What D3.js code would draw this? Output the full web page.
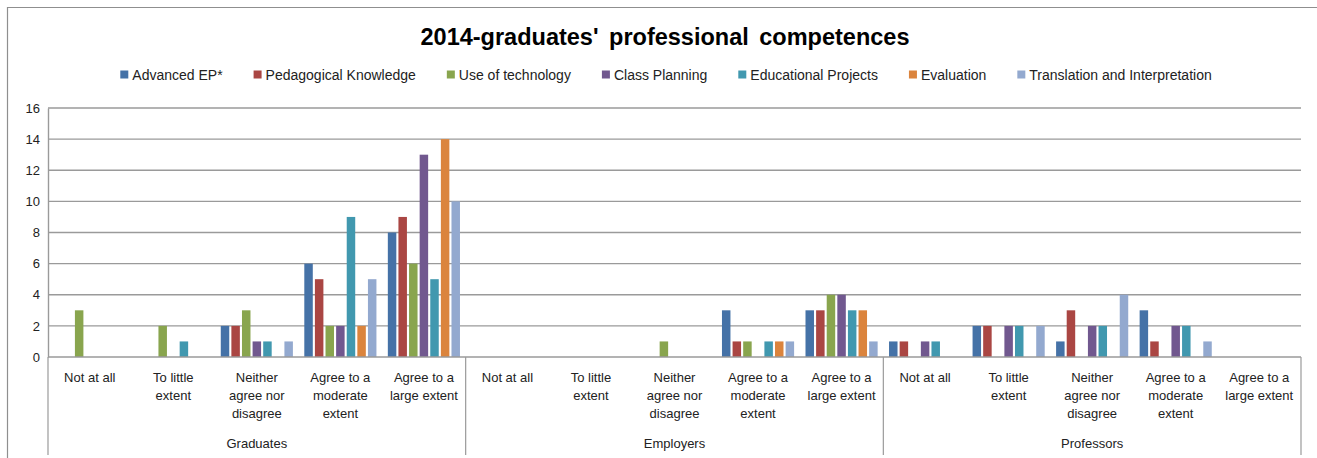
<!DOCTYPE html>
<html>
<head>
<meta charset="utf-8">
<script src="https://cdn.jsdelivr.net/npm/d3@7"></script>
<style>
  body { margin: 0; background: #fff; }
  svg { display: block; font-family: "Liberation Sans", Arial, sans-serif; }
</style>
</head>
<body>
<div id="chart"></div>
<script>
// chart data
const seriesNames = ["Advanced EP*", "Pedagogical Knowledge", "Use of technology", "Class Planning",
  "Educational Projects", "Evaluation", "Translation and Interpretation"]
const seriesColors = ["#4572A7", "#AA4643", "#89A54E", "#71588F", "#4198AF", "#DB843D", "#93A9CF"]
const groups = ["Graduates", "Employers", "Professors"]
const levels = [["Not at all"], ["To little", "extent"], ["Neither", "agree nor", "disagree"],
  ["Agree to a", "moderate", "extent"], ["Agree to a", "large extent"]]
const yTicks = [0, 2, 4, 6, 8, 10, 12, 14, 16]

// values: Graduates (5), Employers (5), Professors (5)
const advancedEP = [0, 0, 2, 6, 8, 0, 0, 0, 3, 3, 1, 2, 1, 3, 0]
const pedagogical = [0, 0, 2, 5, 9, 0, 0, 0, 1, 3, 1, 2, 3, 1, 0]
const technology = [3, 2, 3, 2, 6, 0, 0, 1, 1, 4, 0, 0, 0, 0, 0]
const classPlanning = [0, 0, 1, 2, 13, 0, 0, 0, 0, 4, 1, 2, 2, 2, 0]
const eduProjects = [0, 1, 1, 9, 5, 0, 0, 0, 1, 3, 1, 2, 2, 2, 0]
const evaluation = [0, 0, 0, 2, 14, 0, 0, 0, 1, 3, 0, 0, 0, 0, 0]
const translation = [0, 0, 1, 5, 10, 0, 0, 0, 1, 1, 0, 2, 4, 1, 0]
const seriesValues = [advancedEP, pedagogical, technology, classPlanning, eduProjects, evaluation, translation]

const W = 1317, H = 458
const plot = { left: 48, right: 1301, top: 108, bottom: 357 }

const svg = d3.select("#chart").append("svg")
  .attr("width", W).attr("height", H)

// frame of the chart object
svg.append("line").attr("x1", 7).attr("x2", W).attr("y1", 7.5).attr("y2", 7.5)
  .attr("stroke", "#8f8f8f").attr("stroke-width", 1.2)
svg.append("line").attr("x1", 7.5).attr("x2", 7.5).attr("y1", 7).attr("y2", H)
  .attr("stroke", "#8f8f8f").attr("stroke-width", 1.2)

// title
svg.append("text")
  .attr("x", 665).attr("y", 45)
  .attr("text-anchor", "middle")
  .attr("font-size", 23.5).attr("font-weight", "bold")
  .attr("word-spacing", 4)
  .attr("fill", "#000")
  .text("2014-graduates' professional competences")

// legend
const legend = svg.append("g")
let lx = 0
seriesNames.forEach((name, i) => {
  const item = legend.append("g").attr("transform", "translate(" + lx + ",0)")
  item.append("rect").attr("x", 0).attr("y", -9.5).attr("width", 8).attr("height", 8)
    .attr("fill", seriesColors[i])
  const t = item.append("text").attr("x", 12).attr("y", 0)
    .attr("font-size", 14).attr("fill", "#222").text(name)
  lx += 12 + t.node().getComputedTextLength() + 31
})
lx -= 31
legend.attr("transform", "translate(" + (666 - lx / 2) + ",80)")

// scales
const cats = d3.range(groups.length * levels.length)
const x0 = d3.scaleBand().domain(cats).range([plot.left, plot.right])
const x1 = d3.scaleBand().domain(d3.range(seriesNames.length))
  .range([5.7, x0.bandwidth() - 5.7]).paddingInner(0.2)
const y = d3.scaleLinear().domain([0, 16]).range([plot.bottom, plot.top])

// gridlines
svg.append("g").selectAll("line").data(yTicks.slice(1)).enter().append("line")
  .attr("x1", plot.left).attr("x2", plot.right)
  .attr("y1", d => y(d)).attr("y2", d => y(d))
  .attr("stroke", "#9a9a9a").attr("stroke-width", 1.4)

// y axis
const yAxis = svg.append("g")
  .attr("transform", "translate(" + plot.left + ",0)")
  .call(d3.axisLeft(y).tickValues(yTicks).tickSize(0).tickPadding(8))
yAxis.select(".domain").attr("stroke", "#9a9a9a").attr("stroke-width", 1.4)
yAxis.selectAll("text").attr("font-size", 13).attr("fill", "#222")
  .attr("font-family", "Liberation Sans, Arial, sans-serif")

// bars
seriesValues.forEach((vals, s) => {
  svg.append("g").selectAll("rect").data(vals).enter().append("rect")
    .attr("x", (d, i) => x0(i) + x1(s))
    .attr("width", x1.bandwidth())
    .attr("y", d => y(d))
    .attr("height", d => y(0) - y(d))
    .attr("fill", seriesColors[s])
})

// category axis
svg.append("line").attr("x1", plot.left).attr("x2", plot.right)
  .attr("y1", plot.bottom).attr("y2", plot.bottom)
  .attr("stroke", "#9a9a9a").attr("stroke-width", 1.4)

const groupEdges = d3.range(groups.length + 1).map(g => g * levels.length)
svg.append("g").selectAll("line").data(groupEdges).enter().append("line")
  .attr("x1", d => d < cats.length ? x0(d) : plot.right)
  .attr("x2", d => d < cats.length ? x0(d) : plot.right)
  .attr("y1", plot.bottom).attr("y2", 455)
  .attr("stroke", "#9a9a9a").attr("stroke-width", 1.2)

// level labels
cats.forEach(c => {
  const lines = levels[c % levels.length]
  const t = svg.append("text")
    .attr("x", x0(c) + x0.bandwidth() / 2).attr("y", 382)
    .attr("text-anchor", "middle").attr("font-size", 13).attr("fill", "#222")
  lines.forEach((ln, k) => {
    t.append("tspan").attr("x", x0(c) + x0.bandwidth() / 2)
      .attr("dy", k === 0 ? 0 : 18).text(ln)
  })
})

// group labels
groups.forEach((g, i) => {
  const a = x0(i * levels.length)
  const b = i === groups.length - 1 ? plot.right : x0((i + 1) * levels.length)
  svg.append("text").attr("x", (a + b) / 2).attr("y", 448)
    .attr("text-anchor", "middle").attr("font-size", 13).attr("fill", "#222")
    .text(g)
})
</script>
</body>
</html>
